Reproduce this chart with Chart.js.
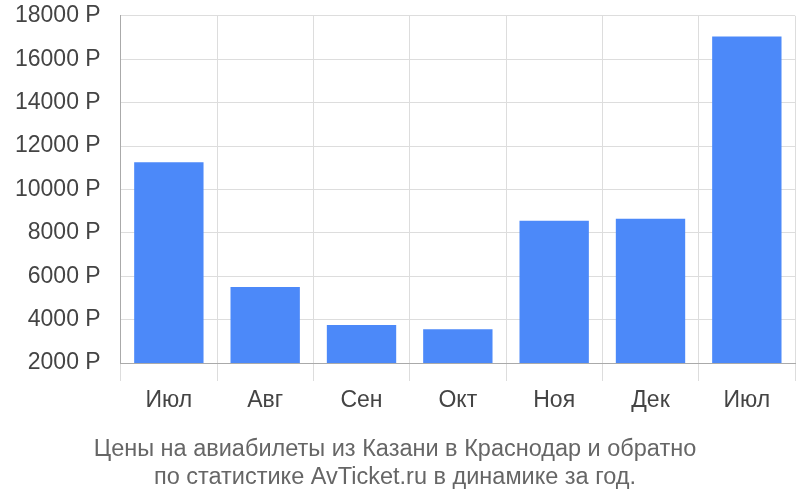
<!DOCTYPE html>
<html lang="ru">
<head>
<meta charset="UTF-8">
<script src="https://cdn.jsdelivr.net/npm/chart.js"></script>
<style>
  body { margin: 0; background: #fff; overflow: hidden; }
  #wrap { width: 805px; height: 518px; margin-top: -18px; margin-left: -5px; }
</style>
</head>
<body>
<div id="wrap"><canvas id="chart"></canvas></div>
<script>
const months = ['Июл', 'Авг', 'Сен', 'Окт', 'Ноя', 'Дек', 'Июл'];
const prices = [11250, 5500, 3750, 3550, 8550, 8650, 17050];

new Chart(document.getElementById('chart'), {
  type: 'bar',
  data: {
    labels: months,
    datasets: [{
      data: prices,
      backgroundColor: '#4c89f9',
      barPercentage: 0.72,
      categoryPercentage: 1
    }]
  },
  options: {
    responsive: true,
    maintainAspectRatio: false,
    animation: false,
    layout: { padding: { top: -18, right: 5, left: 0, bottom: 8 } },
    plugins: {
      legend: { display: false },
      tooltip: { enabled: false },
      title: {
        display: true,
        position: 'bottom',
        text: ['Цены на авиабилеты из Казани в Краснодар и обратно',
               'по статистике AvTicket.ru в динамике за год.'],
        color: '#666',
        font: { family: 'Liberation Sans', size: 23.5, weight: 'normal' },
        padding: { top: 15, bottom: 0 },
        lineHeight: 1.2
      }
    },
    scales: {
      x: {
        grid: { color: '#ddd', tickLength: 18, offset: true },
        border: { color: '#aaa' },
        ticks: { color: '#444', padding: 6, font: { family: 'Liberation Sans', size: 23 } }
      },
      y: {
        min: 2000,
        max: 18000,
        grid: { color: '#ddd', tickLength: 0 },
        border: { color: '#aaa' },
        ticks: {
          stepSize: 2000,
          padding: 20,
          color: '#444',
          font: { family: 'Liberation Sans', size: 23 },
          callback: v => v + ' Р'
        }
      }
    }
  }
});
</script>
</body>
</html>
